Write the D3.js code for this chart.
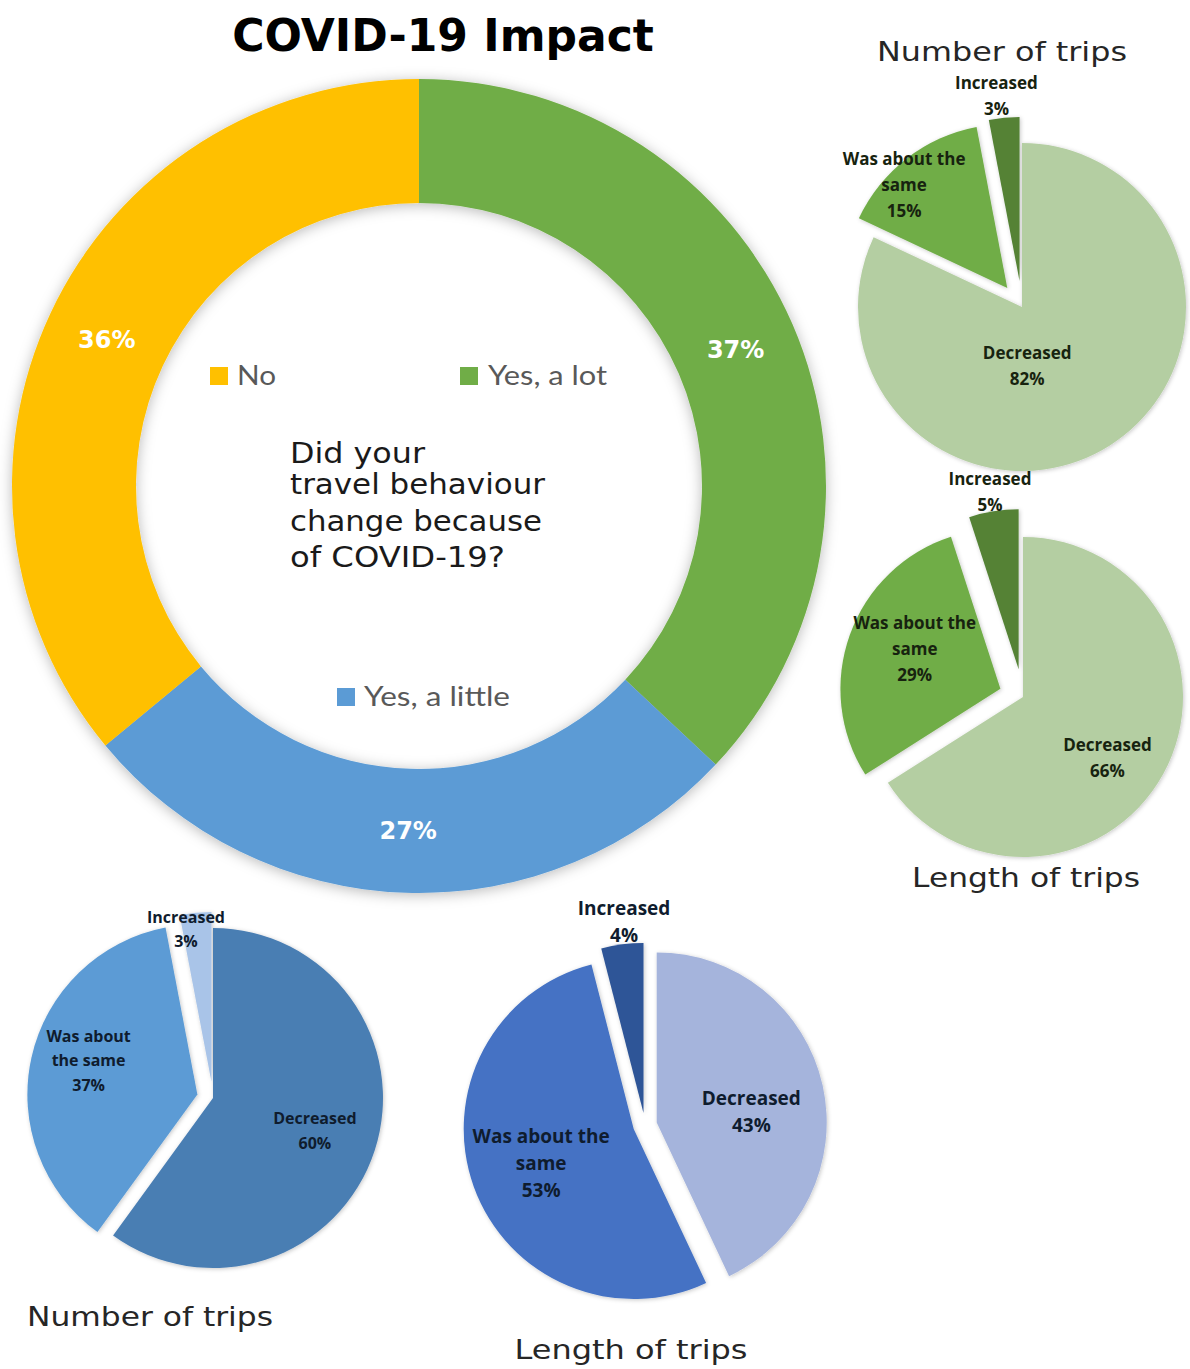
<!DOCTYPE html>
<html><head><meta charset="utf-8">
<script src="https://cdn.jsdelivr.net/npm/d3@7"></script>
<style>body{margin:0;background:#fff} svg{display:block}</style>
</head><body><svg id="chart" width="1190" height="1369"></svg>
<script>
// ---------- DATA ----------
const titleText = "COVID-19 Impact";
const questionLines = ["Did your", "travel behaviour", "change because", "of COVID-19?"];
const mainCategories = ["Yes, a lot", "Yes, a little", "No"];
const mainValues = [37, 27, 36];
const legendOrder = ["No", "Yes, a lot", "Yes, a little"];

const subCategories = ["Decreased", "Was about the same", "Increased"];
const greenNumberValues = [82, 15, 3];
const greenLengthValues = [66, 29, 5];
const blueNumberValues = [60, 37, 3];
const blueLengthValues = [43, 53, 4];
const subTitles = ["Number of trips", "Length of trips", "Number of trips", "Length of trips"];

// ---------- STYLE / LAYOUT ----------
const mainColors = {"Yes, a lot": "#70ad47", "Yes, a little": "#5b9bd5", "No": "#ffc000"};
const svg = d3.select("#chart");
const defs = svg.append("defs");
defs.append("filter").attr("id", "ringShadow").attr("x", "-20%").attr("y", "-20%").attr("width", "140%").attr("height", "140%")
  .append("feDropShadow").attr("dx", 0).attr("dy", 2).attr("stdDeviation", 7)
  .attr("flood-color", "#000").attr("flood-opacity", 0.28);
defs.append("filter").attr("id", "pieShadow").attr("x", "-20%").attr("y", "-20%").attr("width", "140%").attr("height", "140%")
  .append("feDropShadow").attr("dx", 1).attr("dy", 1).attr("stdDeviation", 2)
  .attr("flood-color", "#000").attr("flood-opacity", 0.22);

// Title
svg.append("text").attr("x", 443).attr("y", 51).attr("text-anchor", "middle")
  .attr("font-family", "DejaVu Sans").attr("font-weight", "bold").attr("font-size", 44)
  .attr("fill", "#000").text(titleText);

// Main donut
const mc = {x: 419, y: 486, r0: 283, r1: 407};
const mainData = mainCategories.map((c, i) => ({cat: c, value: mainValues[i]}));
const mainPie = d3.pie().sort(null).value(d => d.value);
const mainArc = d3.arc().innerRadius(mc.r0).outerRadius(mc.r1);
const mg = svg.append("g").attr("transform", `translate(${mc.x},${mc.y})`);
mg.append("g").attr("filter", "url(#ringShadow)")
  .selectAll("path").data(mainPie(mainData)).join("path")
  .attr("d", mainArc).attr("fill", d => mainColors[d.data.cat]);
mg.selectAll("text.pct").data(mainPie(mainData)).join("text").attr("class", "pct")
  .attr("transform", d => `translate(${mainArc.centroid(d)})`)
  .attr("text-anchor", "middle").attr("dy", "0.36em")
  .attr("font-family", "DejaVu Sans").attr("font-weight", "bold").attr("font-size", 24)
  .attr("fill", "#fff").text(d => d.data.value + "%");

// Legend inside donut
const legendPos = {"No": [210, 376, 237, 39], "Yes, a lot": [460, 376, 488, 119], "Yes, a little": [337, 697, 364, 146]};
const lg = svg.append("g");
legendOrder.forEach(c => {
  const p = legendPos[c];
  lg.append("rect").attr("x", p[0]).attr("y", p[1] - 9).attr("width", 18).attr("height", 18).attr("fill", mainColors[c]);
  lg.append("text").attr("x", p[2]).attr("y", p[1] + 9).attr("font-family", "Lato").attr("font-size", 26)
    .attr("fill", "#595959").attr("textLength", p[3]).attr("lengthAdjust", "spacingAndGlyphs").text(c);
});

// Question
const qBase = [463, 494, 531, 567];
const qLen = [135, 255, 252, 215];
svg.append("g").selectAll("text").data(questionLines).join("text")
  .attr("x", 290).attr("y", (d, i) => qBase[i])
  .attr("font-family", "DejaVu Sans").attr("font-size", 28).attr("fill", "#1a1a1a")
  .attr("textLength", (d, i) => qLen[i]).attr("lengthAdjust", "spacingAndGlyphs")
  .text(d => d);

// Small pies
const pies = [
  {values: greenNumberValues, cx: 1022, cy: 307, r: 164, colors: ["#b4cea2", "#70ad47", "#548235"],
   explode: [0, 24, 26], lab: [[0.36, 27.4], [0.89, -7.2], [1.14, -1.7]],
   wrap: [["Decreased"], ["Was about the", "same"], ["Increased"]], fs: 17, lh: 26, tc: "#17230f",
   title: {x: 1002, y: 61, len: 250}},
  {values: greenLengthValues, cx: 1023, cy: 697, r: 160, colors: ["#b4cea2", "#70ad47", "#548235"],
   explode: [0, 24, 28], lab: [[0.65, 6.9], [0.59, 5], [1.12, -0.2]],
   wrap: [["Decreased"], ["Was about the", "same"], ["Increased"]], fs: 17, lh: 26, tc: "#17230f",
   title: {x: 1026, y: 887, len: 228}},
  {values: blueNumberValues, cx: 213, cy: 1098, r: 170, colors: ["#4a7eb3", "#5b9bd5", "#a9c4e8"],
   explode: [0, 16, 16], lab: [[0.63, 0], [0.67, 4.6], [0.91, -4.1]],
   wrap: [["Decreased"], ["Was about", "the same"], ["Increased"]], fs: 16, lh: 24.5, tc: "#0f1c2e",
   title: {x: 150, y: 1326, len: 246}},
  {values: blueLengthValues, cx: 645, cy: 1125, r: 170, colors: ["#a5b4dc", "#4472c4", "#2f5597"],
   explode: [12, 12, 12], lab: [[0.56, 6.3], [0.58, -0.3], [1.13, 1.4]],
   wrap: [["Decreased"], ["Was about the", "same"], ["Increased"]], fs: 19, lh: 27, tc: "#0f1c2e",
   title: {x: 631, y: 1359, len: 233}}
];

pies.forEach((p, pi) => {
  const data = subCategories.map((c, i) => ({cat: c, value: p.values[i], i}));
  const arcs = d3.pie().sort(null).value(d => d.value)(data);
  const arc = d3.arc().innerRadius(0).outerRadius(p.r);
  const g = svg.append("g").attr("transform", `translate(${p.cx},${p.cy})`);
  const sg = g.append("g").attr("filter", "url(#pieShadow)");
  sg.selectAll("path").data(arcs).join("path")
    .attr("transform", d => {
      const a = (d.startAngle + d.endAngle) / 2, e = p.explode[d.index];
      return `translate(${e * Math.sin(a)},${-e * Math.cos(a)})`;
    })
    .attr("d", arc).attr("fill", d => p.colors[d.index]);
  arcs.forEach(d => {
    const a = (d.startAngle + d.endAngle) / 2, e = p.explode[d.index];
    const la = a + p.lab[d.index][1] * Math.PI / 180, lr = p.lab[d.index][0] * p.r;
    const x = e * Math.sin(a) + lr * Math.sin(la);
    const y = -e * Math.cos(a) - lr * Math.cos(la);
    const lines = p.wrap[d.index].concat([d.data.value + "%"]);
    const t = g.append("text").attr("text-anchor", "middle")
      .attr("font-family", "Open Sans").attr("font-weight", "bold").attr("font-size", p.fs).attr("fill", p.tc);
    lines.forEach((ln, li) => {
      t.append("tspan").attr("x", x)
        .attr("y", y + (li - (lines.length - 1) / 2) * p.lh).attr("dy", "0.35em").text(ln);
    });
  });
  svg.append("text").attr("x", p.title.x).attr("y", p.title.y).attr("text-anchor", "middle")
    .attr("font-family", "DejaVu Sans").attr("font-size", 27).attr("fill", "#262626")
    .attr("textLength", p.title.len).attr("lengthAdjust", "spacingAndGlyphs").text(subTitles[pi]);
});
</script></body></html>
